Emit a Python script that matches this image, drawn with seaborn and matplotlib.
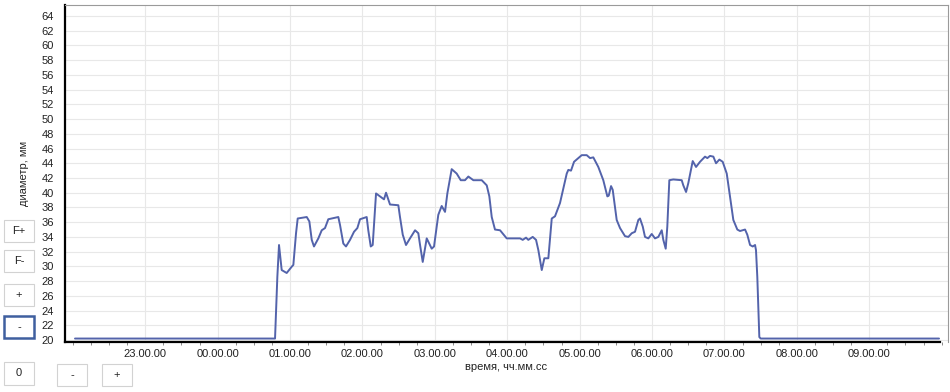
import matplotlib
matplotlib.use("Agg")
import matplotlib.pyplot as plt
import seaborn as sns
import pandas as pd
import numpy as np
from matplotlib.patches import Rectangle
from matplotlib.ticker import FixedLocator, MultipleLocator

# ---- data: time in hours from midnight (negative = previous evening), diameter in mm
time_h = [-1.970, 0.793, 0.825, 0.848, 0.885, 0.954, 1.023, 1.046, 1.083, 1.106,
          1.231, 1.267, 1.300, 1.331, 1.391, 1.438, 1.483, 1.529, 1.667, 1.691,
          1.736, 1.773, 1.829, 1.884, 1.930, 1.967, 2.059, 2.081, 2.115, 2.142,
          2.188, 2.243, 2.298, 2.326, 2.381, 2.496, 2.519, 2.557, 2.602, 2.657,
          2.727, 2.772, 2.796, 2.833, 2.888, 2.957, 2.989, 3.048, 3.095, 3.141,
          3.173, 3.233, 3.302, 3.358, 3.417, 3.463, 3.532, 3.648, 3.717, 3.753,
          3.786, 3.831, 3.901, 3.993, 4.177, 4.214, 4.260, 4.291, 4.352, 4.398,
          4.430, 4.477, 4.513, 4.568, 4.615, 4.660, 4.729, 4.775, 4.822, 4.844,
          4.881, 4.923, 5.029, 5.098, 5.144, 5.189, 5.258, 5.327, 5.383, 5.402,
          5.434, 5.457, 5.512, 5.558, 5.627, 5.673, 5.720, 5.765, 5.811, 5.834,
          5.872, 5.903, 5.949, 5.996, 6.041, 6.087, 6.134, 6.156, 6.189, 6.211,
          6.239, 6.294, 6.410, 6.432, 6.470, 6.501, 6.562, 6.608, 6.663, 6.732,
          6.764, 6.801, 6.847, 6.884, 6.930, 6.976, 7.032, 7.077, 7.123, 7.178,
          7.215, 7.285, 7.316, 7.354, 7.391, 7.423, 7.436, 7.454, 7.482, 7.501,
          9.964]
diameter = [20.2, 20.2, 28.6, 32.9, 29.5, 29.1, 29.95, 30.2, 34.5, 36.5,
            36.7, 36.1, 33.6, 32.7, 33.8, 34.9, 35.2, 36.4, 36.7, 35.6,
            33.1, 32.7, 33.6, 34.7, 35.2, 36.4, 36.7, 34.9, 32.7, 32.9,
            39.9, 39.5, 39.1, 40.0, 38.4, 38.3, 36.7, 34.3, 32.9, 33.8,
            34.9, 34.5, 32.9, 30.6, 33.8, 32.4, 32.7, 37.0, 38.2, 37.4,
            39.9, 43.2, 42.6, 41.7, 41.7, 42.2, 41.7, 41.7, 41.0, 39.5,
            36.7, 35.0, 34.9, 33.8, 33.8, 33.6, 33.9, 33.6, 34.0, 33.6,
            32.2, 29.5, 31.1, 31.1, 36.5, 36.8, 38.6, 40.6, 42.6, 43.1,
            43.0, 44.2, 45.1, 45.1, 44.7, 44.8, 43.5, 41.7, 39.5, 39.6,
            40.9, 40.4, 36.3, 35.2, 34.1, 34.0, 34.5, 34.7, 36.3, 36.5,
            35.4, 34.0, 33.8, 34.4, 33.8, 34.0, 34.9, 33.6, 32.4, 35.4,
            41.7, 41.8, 41.7, 41.0, 40.1, 41.3, 44.3, 43.5, 44.2, 44.9,
            44.7, 45.0, 44.9, 44.0, 44.5, 44.2, 42.6, 39.5, 36.3, 35.0,
            34.8, 35.0, 34.3, 32.9, 32.7, 32.9, 32.2, 28.6, 20.4, 20.2,
            20.2]

x_ticks = [-1, 0, 1, 2, 3, 4, 5, 6, 7, 8, 9]
x_tick_labels = ["23.00.00", "00.00.00", "01.00.00", "02.00.00", "03.00.00",
                 "04.00.00", "05.00.00", "06.00.00", "07.00.00", "08.00.00",
                 "09.00.00"]
y_ticks = list(range(20, 65, 2))
button_labels = ["F+", "F-", "+", "-", "0", "-", "+"]

df = pd.DataFrame({"time": time_h, "diameter": diameter})

sns.set_style("white")
plt.rcParams["font.family"] = ["Liberation Sans", "DejaVu Sans"]

W, H = 950, 392
fig = plt.figure(figsize=(W / 100, H / 100), dpi=100)
ax_l, ax_r, ax_t, ax_b = 65, 948, 5, 342
ax = fig.add_axes([ax_l / W, 1 - ax_b / H, (ax_r - ax_l) / W, (ax_b - ax_t) / H])

sns.lineplot(data=df, x="time", y="diameter", ax=ax, color="#5363ab",
             linewidth=1.4, estimator=None, sort=False)

ax.set_xlim(-2.108, 10.088)
ax.set_ylim(19.73, 65.49)

ax.xaxis.set_major_locator(FixedLocator(x_ticks))
ax.set_xticklabels(x_tick_labels)
ax.xaxis.set_minor_locator(MultipleLocator(0.25))
ax.set_yticks(y_ticks)
ax.set_yticklabels([str(v) for v in y_ticks])

ax.grid(True, which="major", axis="both", color="#e8e8e8", linewidth=0.8)
ax.set_axisbelow(True)

ax.tick_params(axis="x", which="major", direction="out", length=3, width=0.8,
               color="#555555", labelsize=8, pad=2, labelcolor="#222222")
ax.tick_params(axis="x", which="minor", direction="out", length=2, width=0.6,
               color="#777777", bottom=True)
ax.tick_params(axis="y", which="major", direction="out", length=2, width=0.6,
               color="#777777", labelsize=8, pad=6, labelcolor="#222222")

for s in ["top", "right"]:
    ax.spines[s].set_color("#9a9a9a")
    ax.spines[s].set_linewidth(0.8)
for s in ["left", "bottom"]:
    ax.spines[s].set_color("black")
    ax.spines[s].set_linewidth(1.6)
ax.spines["bottom"].set_bounds(-2.108, 9.978)

ax.set_xlabel("время, чч.мм.сс", fontsize=8, color="#222222", labelpad=2)
ax.set_ylabel("диаметр, мм", fontsize=8, color="#222222", labelpad=9)

# UI buttons on the left / bottom
buttons = [
    (4, 220, 30, 22, False),
    (4, 250, 30, 22, False),
    (4, 284, 30, 22, False),
    (4, 316, 30, 22, True),
    (4, 362, 30, 23, False),
    (57, 364, 30, 22, False),
    (102, 364, 30, 22, False),
]
for (bx, by, bw, bh, active), lab in zip(buttons, button_labels):
    rect = Rectangle((bx / W, 1 - (by + bh) / H), bw / W, bh / H,
                     transform=fig.transFigure,
                     facecolor="white",
                     edgecolor="#3f5f9f" if active else "#d2d2d2",
                     linewidth=1.8 if active else 0.8)
    fig.add_artist(rect)
    fig.text((bx + bw / 2) / W, 1 - (by + bh / 2) / H, lab, ha="center",
             va="center", fontsize=8, color="#222222")

fig.savefig("out.png", dpi=100)
